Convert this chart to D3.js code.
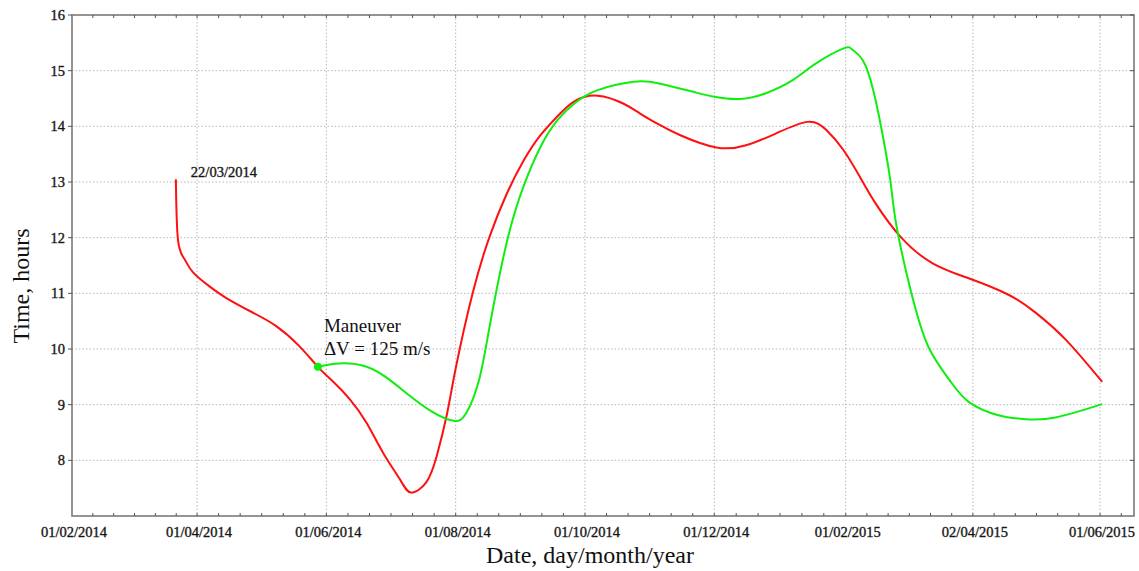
<!DOCTYPE html>
<meta charset="utf-8">
<script src="https://d3js.org/d3.v7.min.js"></script>
<style>
  body { margin: 0; background: #fff; }
  text { font-family: "Liberation Serif", "Times New Roman", serif; fill: #111; }
  .lbl { stroke: #222; stroke-width: 0.35px; }
</style>
<div id="my_dataviz"></div>
<script>

// red curve: original orbit (from 22/03/2014)
var redDates = ["2014-03-22","2014-03-23","2014-03-26","2014-03-30","2014-04-07","2014-04-15","2014-04-27",
  "2014-05-08","2014-05-19","2014-05-28","2014-06-04","2014-06-12","2014-06-20","2014-06-28","2014-07-06","2014-07-11",
  "2014-07-18","2014-07-23","2014-07-28","2014-08-01","2014-08-09","2014-08-17","2014-08-25","2014-09-02",
  "2014-09-10","2014-09-18","2014-09-26","2014-10-07","2014-10-19","2014-10-27","2014-11-05","2014-11-15",
  "2014-12-02","2014-12-16","2014-12-30","2015-01-14","2015-01-23","2015-01-31","2015-02-08","2015-02-15",
  "2015-02-27","2015-03-14","2015-03-31","2015-04-19","2015-05-02","2015-05-16","2015-06-02"];
var redValues = [13.05,11.96,11.62,11.38,11.12,10.91,10.66,
  10.42,10.06,9.68,9.42,9.10,8.67,8.12,7.64,7.42,
  7.60,8.07,8.85,9.65,11.0,12.02,12.78,13.38,
  13.84,14.18,14.45,14.55,14.41,14.23,14.03,13.84,
  13.62,13.66,13.87,14.08,13.93,13.57,13.07,12.62,
  12.01,11.54,11.27,10.97,10.64,10.16,9.41];

// green curve: after the maneuver
var greenDates = ["2014-05-28","2014-06-07","2014-06-20","2014-07-01","2014-07-10","2014-07-21","2014-07-31",
  "2014-08-06","2014-08-12","2014-08-17","2014-08-25","2014-09-02","2014-09-10","2014-09-18",
  "2014-09-26","2014-10-07","2014-10-24","2014-11-05","2014-11-21","2014-12-01","2014-12-13","2014-12-25",
  "2015-01-07","2015-01-18","2015-01-31","2015-02-04","2015-02-09","2015-02-14","2015-02-18","2015-02-22",
  "2015-02-25","2015-03-04","2015-03-12","2015-03-22","2015-03-31","2015-04-14","2015-04-27",
  "2015-05-11","2015-06-02"];
var greenValues = [9.68,9.74,9.68,9.44,9.17,8.87,8.71,
  8.85,9.44,10.40,11.90,12.92,13.63,14.11,
  14.41,14.65,14.80,14.77,14.62,14.53,14.49,14.59,
  14.83,15.13,15.40,15.38,15.19,14.65,13.93,13.04,
  12.20,11.0,10.04,9.44,9.05,8.81,8.74,
  8.77,9.01];

var xTickDates = ["2014-02-01","2014-04-01","2014-06-01","2014-08-01","2014-10-01","2014-12-01","2015-02-01","2015-04-02","2015-06-01"];
var yTicks = [8, 9, 10, 11, 12, 13, 14, 15, 16];

var maneuverDate = "2014-05-28", maneuverValue = 9.68;

var parse = d3.timeParse("%Y-%m-%d");
var fmt = d3.timeFormat("%d/%m/%Y");

var margin = {top: 15, right: 5, bottom: 55, left: 72},
    width = 1139 - margin.left - margin.right,
    height = 571 - margin.top - margin.bottom;

var svgRoot = d3.select("#my_dataviz")
  .append("svg")
    .attr("width", 1139)
    .attr("height", 571);
var svg = svgRoot.append("g")
    .attr("transform", "translate(" + margin.left + "," + margin.top + ")");

var x = d3.scaleTime()
  .domain([parse("2014-02-01"), parse("2015-06-17")])
  .range([0, width]);
var y = d3.scaleLinear()
  .domain([7, 16])
  .range([height, 0]);

var majors = xTickDates.map(parse);
// minor ticks: 6 steps between majors
var minors = [];
for (var i = 0; i < majors.length - 1; i++) {
  var a = +majors[i], b = +majors[i + 1];
  for (var k = 1; k < 6; k++) minors.push(new Date(a + (b - a) * k / 6));
}
var lastStep = (+majors[8] - +majors[7]) / 6;
minors.push(new Date(+majors[8] + lastStep));

// grid
svg.append("g").selectAll("line").data(majors.slice(1)).enter().append("line")
  .attr("x1", d => x(d)).attr("x2", d => x(d))
  .attr("y1", 0).attr("y2", height)
  .attr("stroke", "#b8b8b8").attr("stroke-width", 1).attr("stroke-dasharray", "1.5,2");
svg.append("g").selectAll("line").data(yTicks.slice(0, -1)).enter().append("line")
  .attr("x1", 0).attr("x2", width)
  .attr("y1", d => y(d)).attr("y2", d => y(d))
  .attr("stroke", "#b8b8b8").attr("stroke-width", 1).attr("stroke-dasharray", "1.5,2");

// frame
svg.append("rect")
  .attr("width", width).attr("height", height)
  .attr("fill", "none").attr("stroke", "#7a7a7a").attr("stroke-width", 1.6);

// minor ticks top/bottom, inward
var allX = minors.concat(majors.slice(1));
svg.append("g").selectAll("line").data(allX).enter().append("line")
  .attr("x1", d => x(d)).attr("x2", d => x(d))
  .attr("y1", height).attr("y2", height - 3)
  .attr("stroke", "#555");
svg.append("g").selectAll("line").data(allX).enter().append("line")
  .attr("x1", d => x(d)).attr("x2", d => x(d))
  .attr("y1", 0).attr("y2", 3)
  .attr("stroke", "#555");
// y ticks left (outward) and right (inward)
svg.append("g").selectAll("line").data(yTicks).enter().append("line")
  .attr("x1", -4).attr("x2", 0)
  .attr("y1", d => y(d)).attr("y2", d => y(d))
  .attr("stroke", "#555");
svg.append("g").selectAll("line").data(yTicks).enter().append("line")
  .attr("x1", width - 4).attr("x2", width)
  .attr("y1", d => y(d)).attr("y2", d => y(d))
  .attr("stroke", "#555");

// tick labels
svg.append("g").selectAll("text").data(majors).enter().append("text")
  .attr("class", "lbl")
  .attr("x", d => x(d) + 2).attr("y", height + 21)
  .attr("text-anchor", "middle")
  .style("font-size", "14.5px")
  .text(d => fmt(d));
svg.append("g").selectAll("text").data(yTicks).enter().append("text")
  .attr("class", "lbl")
  .attr("x", -7).attr("y", d => y(d) + 5)
  .attr("text-anchor", "end")
  .style("font-size", "14.5px")
  .text(d => d);

// curves
var line = d3.line()
  .x(d => x(d.date))
  .y(d => y(d.value))
  .curve(d3.curveNatural);

var red = redDates.map((d, i) => ({date: parse(d), value: redValues[i]}));
var green = greenDates.map((d, i) => ({date: parse(d), value: greenValues[i]}));

svg.append("path").datum(red)
  .attr("d", line).attr("fill", "none")
  .attr("stroke", "#ff1010").attr("stroke-width", 2);
svg.append("path").datum(green)
  .attr("d", line).attr("fill", "none")
  .attr("stroke", "#10ee10").attr("stroke-width", 2);

svg.append("circle")
  .attr("cx", x(parse(maneuverDate))).attr("cy", y(maneuverValue))
  .attr("r", 4).attr("fill", "#10ee10");

// annotations
svg.append("text")
  .attr("class", "lbl")
  .attr("x", x(parse("2014-03-22")) + 15).attr("y", y(13.05) - 2)
  .style("font-size", "14.5px")
  .text("22/03/2014");
svg.append("text")
  .attr("x", x(parse(maneuverDate)) + 6).attr("y", y(maneuverValue) - 35)
  .style("font-size", "19px")
  .text("Maneuver");
svg.append("text")
  .attr("x", x(parse(maneuverDate)) + 6).attr("y", y(maneuverValue) - 12)
  .style("font-size", "19px")
  .text("ΔV = 125 m/s");

// axis titles
svgRoot.append("text")
  .attr("x", 590).attr("y", 563)
  .attr("text-anchor", "middle")
  .style("font-size", "24px")
  .text("Date, day/month/year");
svgRoot.append("text")
  .attr("transform", "translate(29,286) rotate(-90)")
  .attr("text-anchor", "middle")
  .style("font-size", "24px")
  .text("Time, hours");

</script>
